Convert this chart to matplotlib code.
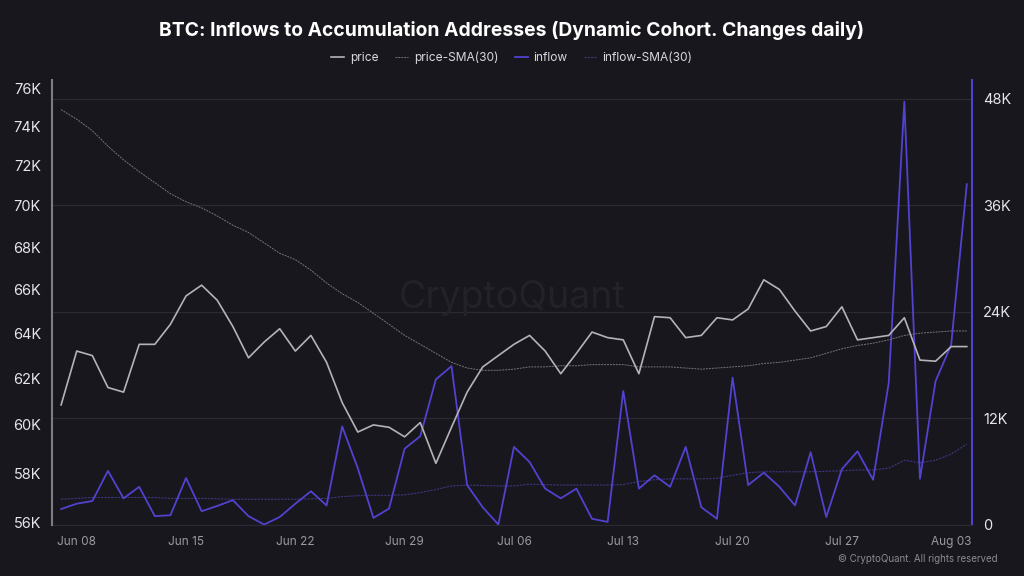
import numpy as np
import pandas as pd
import matplotlib
matplotlib.use("Agg")
import matplotlib.pyplot as plt
import matplotlib.dates as mdates
from matplotlib.ticker import FixedLocator, FuncFormatter, NullLocator

plt.rcParams['font.family'] = ['Inter', 'DejaVu Sans']

# daily data, Jun 07 -> Aug 04
datas = pd.date_range("2024-06-07", "2024-08-04", freq="D")

price = [60.85, 63.2, 63.0, 61.6, 61.4, 63.5, 63.5, 64.4, 65.7, 66.2,
         65.5, 64.3, 62.9, 63.6, 64.2, 63.2, 63.9, 62.7, 60.95, 59.7,
         60.0, 59.9, 59.5, 60.1, 58.4, 59.9, 61.4, 62.5, 63.0, 63.5,
         63.9, 63.2, 62.2, 63.1, 64.05, 63.8, 63.7, 62.2, 64.75, 64.7,
         63.8, 63.9, 64.7, 64.6, 65.1, 66.45, 66.0, 65.0, 64.1, 64.3,
         65.2, 63.7, 63.8, 63.9, 64.7, 62.8, 62.75, 63.4, 63.4]

price_sma = [74.9, 74.4, 73.8, 73.0, 72.3, 71.7, 71.15, 70.6, 70.2, 69.9,
             69.5, 69.05, 68.7, 68.2, 67.7, 67.4, 66.9, 66.3, 65.8, 65.4,
             64.9, 64.4, 63.9, 63.5, 63.1, 62.7, 62.45, 62.35, 62.35, 62.4,
             62.5, 62.5, 62.55, 62.55, 62.6, 62.6, 62.6, 62.5, 62.5, 62.5,
             62.45, 62.4, 62.45, 62.5, 62.55, 62.65, 62.7, 62.8, 62.9, 63.1,
             63.3, 63.45, 63.55, 63.7, 63.9, 64.0, 64.05, 64.1, 64.1]

inflow = [1.8, 2.4, 2.7, 6.1, 3.0, 4.3, 1.0, 1.1, 5.3, 1.55,
          2.15, 2.8, 1.0, 0.05, 0.9, 2.4, 3.8, 2.2, 11.1, 6.4,
          0.8, 1.85, 8.6, 10.0, 16.4, 17.9, 4.5, 2.0, 0.05, 8.8,
          7.1, 4.1, 3.0, 4.1, 0.7, 0.35, 15.1, 4.1, 5.6, 4.3,
          8.8, 2.0, 0.7, 16.6, 4.5, 5.9, 4.3, 2.2, 8.2, 0.9,
          6.3, 8.3, 5.1, 16.0, 47.7, 5.2, 16.2, 20.3, 38.4]

inflow_sma = [2.9, 3.0, 3.1, 3.1, 3.1, 3.1, 3.1, 3.0, 3.0, 3.0,
              2.95, 2.9, 2.9, 2.9, 2.9, 2.9, 2.95, 3.0, 3.2, 3.3,
              3.35, 3.35, 3.4, 3.65, 4.0, 4.4, 4.5, 4.45, 4.4, 4.4,
              4.6, 4.55, 4.5, 4.5, 4.5, 4.5, 4.55, 4.9, 5.1, 5.2,
              5.2, 5.2, 5.25, 5.6, 5.9, 6.0, 6.0, 6.0, 6.0, 6.05,
              6.1, 6.2, 6.2, 6.4, 7.3, 7.0, 7.3, 8.0, 9.1]

df = pd.DataFrame({"price": np.array(price) * 1000,
                   "price_sma": np.array(price_sma) * 1000,
                   "inflow": np.array(inflow) * 1000,
                   "inflow_sma": np.array(inflow_sma) * 1000}, index=datas)

fundo = '#18171d'
cor_price = '#b4b4b8'
cor_psma = '#74747a'
cor_inflow = '#5142d0'
cor_isma = '#3d3680'

fig = plt.figure(figsize=(10.24, 5.76), dpi=100, facecolor=fundo)
ax1 = fig.add_axes([52/1024, 51/576, 920/1024, 445/576], facecolor=fundo)
ax2 = ax1.twinx()

# eixo direito (inflow) com grade
ax2.set_ylim(0, 50140)
ax2.yaxis.set_major_locator(FixedLocator([0, 12000, 24000, 36000, 48000]))
ax2.yaxis.set_major_formatter(FuncFormatter(lambda v, p: "0" if v == 0 else f"{int(v/1000)}K"))
ax2.grid(True, axis='y', color='#2b2a33', linewidth=0.9)
ax2.set_axisbelow(True)

# eixo esquerdo (price) em log
ax1.set_yscale('log')
ax1.set_ylim(55920, 76480)
ax1.yaxis.set_major_locator(FixedLocator([56000 + 2000*i for i in range(11)]))
ax1.yaxis.set_minor_locator(NullLocator())
ax1.yaxis.set_major_formatter(FuncFormatter(lambda v, p: f"{int(round(v/1000))}K"))

ax2.plot(df.index, df["inflow_sma"], color=cor_isma, linewidth=0.8, linestyle=(0, (2, 1)), label='inflow-SMA(30)')
ax2.plot(df.index, df["inflow"], color=cor_inflow, linewidth=1.3, label='inflow')
ax1.plot(df.index, df["price_sma"], color=cor_psma, linewidth=0.7, linestyle=(0, (2, 1)), label='price-SMA(30)')
ax1.plot(df.index, df["price"], color=cor_price, linewidth=1.2, label='price')

ax1.set_zorder(ax2.get_zorder() + 1)
ax1.patch.set_visible(False)
ax2.patch.set_visible(True)
ax2.patch.set_facecolor(fundo)

ax1.set_xlim(pd.Timestamp("2024-06-06 10:00"), pd.Timestamp("2024-08-04 08:00"))
ticks = pd.to_datetime(["2024-06-08", "2024-06-15", "2024-06-22", "2024-06-29", "2024-07-06",
                        "2024-07-13", "2024-07-20", "2024-07-27", "2024-08-03"])
ax1.set_xticks(ticks)
ax1.xaxis.set_major_formatter(mdates.DateFormatter('%b %d'))

for ax in (ax1, ax2):
    for s in ax.spines.values():
        s.set_visible(False)
    ax.tick_params(length=0)
ax1.spines['left'].set_visible(True)
ax1.spines['left'].set_color('#7c7c82')
ax1.spines['left'].set_linewidth(1.5)
ax2.spines['right'].set_visible(True)
ax2.spines['right'].set_color(cor_inflow)
ax2.spines['right'].set_linewidth(1.5)
ax2.spines['bottom'].set_visible(True)
ax2.spines['bottom'].set_color('#2b2a33')

ax1.tick_params(axis='y', colors='#e6e6ea', labelsize=10.5, pad=8)
ax2.tick_params(axis='y', colors='#e6e6ea', labelsize=10.5, pad=8)
ax1.tick_params(axis='x', colors='#9a9aa0', labelsize=8.5, pad=8)

# titulo e legenda
fig.text(0.5, 0.947, "BTC: Inflows to Accumulation Addresses (Dynamic Cohort. Changes daily)",
         ha='center', va='center', color='white', fontsize=13.9, fontweight='bold')
h1, l1 = ax1.get_legend_handles_labels()
h2, l2 = ax2.get_legend_handles_labels()
handles = [h1[1], h1[0], h2[1], h2[0]]
labels = [l1[1], l1[0], l2[1], l2[0]]
leg = fig.legend(handles, labels, loc='center', bbox_to_anchor=(0.5, 0.899), ncol=4, frameon=False,
                 fontsize=8.6, handlelength=1.1, handletextpad=0.45, columnspacing=1.4, labelcolor='#d8d8dc')

# marca d'agua e rodape
fig.text(0.5, 0.482, "CryptoQuant", ha='center', va='center', color='#232229', fontsize=27, zorder=0)
fig.text(0.974, 0.029, "© CryptoQuant. All rights reserved", ha='right', va='center',
         color='#8a8a90', fontsize=7)

plt.savefig("out.png", dpi=100, facecolor=fundo)
plt.close()
